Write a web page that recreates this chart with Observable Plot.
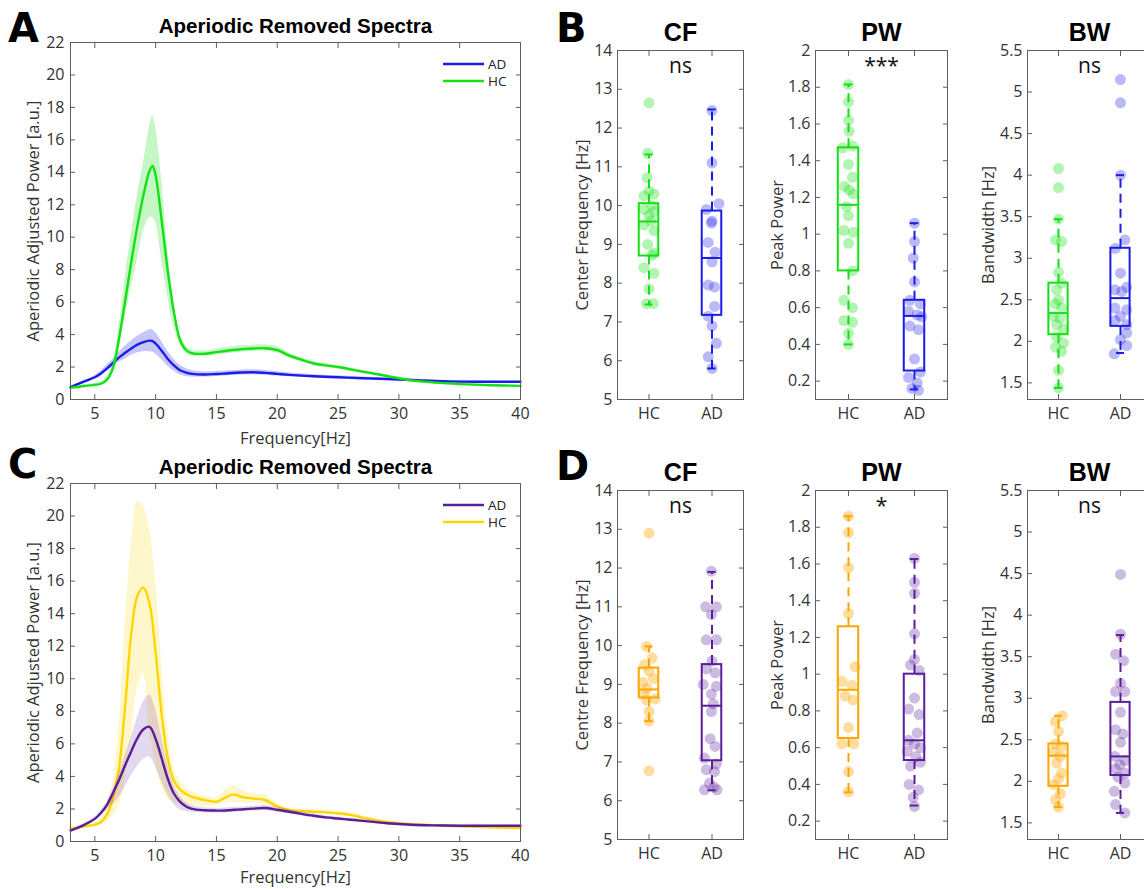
<!DOCTYPE html>
<html lang="en"><head><meta charset="utf-8">
<script src="https://cdn.jsdelivr.net/npm/d3@7"></script>
<script src="https://cdn.jsdelivr.net/npm/@observablehq/plot@0.6"></script>
<style>
html,body{margin:0;padding:0;background:#fff;overflow:hidden;}
#fig{position:relative;width:1144px;height:889px;overflow:hidden;background:#fff;}
</style></head><body><div id="fig"></div>
<script>
// ---------------- DATA ----------------
const groups = ["HC", "AD"];
const specXTicks = [5, 10, 15, 20, 25, 30, 35, 40];
const specYTicks = [0, 2, 4, 6, 8, 10, 12, 14, 16, 18, 20, 22];
const cfTicks = [5, 6, 7, 8, 9, 10, 11, 12, 13, 14];
const pwTicks = [0.2, 0.4, 0.6, 0.8, 1, 1.2, 1.4, 1.6, 1.8, 2];
const bwTicks = [1.5, 2, 2.5, 3, 3.5, 4, 4.5, 5, 5.5];

// Panel A spectra
const freqA = [3,4,5,5.5,6,6.5,7,7.5,8,8.5,9,9.5,9.75,10,10.5,11,11.5,12,12.5,13,14,15,16,17,18,19,20,21,22,23,25,27,29,31,33,35,37.5,40];
const hcMeanA = [0.72,0.82,0.90,0.97,1.22,1.95,3.80,6.10,8.50,10.70,12.60,14.10,14.40,13.80,11.00,7.90,5.40,3.70,3.05,2.85,2.82,2.92,3.02,3.10,3.14,3.16,3.05,2.70,2.45,2.22,2.00,1.72,1.45,1.18,1.04,0.95,0.88,0.84];
const hcHighA = [0.80,0.90,1.00,1.10,1.40,2.30,4.50,7.50,10.20,12.60,14.60,16.80,17.50,16.80,13.50,9.30,6.00,4.00,3.30,3.05,3.00,3.10,3.22,3.31,3.35,3.37,3.25,2.86,2.58,2.34,2.10,1.81,1.53,1.25,1.10,1.00,0.93,0.88];
const hcLowA = [0.65,0.75,0.82,0.86,1.05,1.65,3.20,5.10,7.00,8.60,10.40,11.20,11.20,10.90,8.60,6.30,4.50,3.40,2.85,2.68,2.65,2.75,2.84,2.91,2.95,2.97,2.87,2.55,2.32,2.10,1.90,1.63,1.37,1.11,0.98,0.90,0.83,0.80];
const adMeanA = [0.76,1.07,1.37,1.60,1.92,2.25,2.60,2.88,3.15,3.38,3.53,3.63,3.60,3.45,3.00,2.50,2.10,1.80,1.66,1.58,1.54,1.57,1.62,1.66,1.68,1.64,1.58,1.52,1.47,1.43,1.37,1.31,1.26,1.20,1.14,1.10,1.09,1.09];
const adHighA = [0.80,1.13,1.47,1.75,2.12,2.50,2.92,3.28,3.60,3.90,4.12,4.30,4.30,4.12,3.58,2.98,2.48,2.12,1.90,1.78,1.70,1.72,1.77,1.81,1.83,1.78,1.71,1.64,1.58,1.53,1.46,1.39,1.33,1.26,1.19,1.15,1.13,1.13];
const adLowA = [0.72,1.01,1.27,1.45,1.72,2.00,2.30,2.50,2.72,2.88,2.95,2.95,2.92,2.80,2.45,2.05,1.75,1.52,1.42,1.38,1.38,1.42,1.47,1.51,1.53,1.50,1.45,1.40,1.36,1.33,1.28,1.23,1.19,1.14,1.09,1.05,1.05,1.05];

// Panel C spectra
const freqC = [3,4,5,5.5,6,6.5,7,7.5,8,8.5,9,9.5,10,10.5,11,11.5,12,12.5,13,14,15,15.5,16,16.5,17,18,19,20,21,22,23,24,25,26,27,29,31,33,35,37.5,40];
const hcMeanC = [0.78,0.91,1.04,1.20,1.65,2.70,4.60,8.40,12.80,15.10,15.60,14.60,11.60,7.80,5.10,3.75,3.20,2.92,2.75,2.55,2.45,2.60,2.80,2.88,2.75,2.64,2.55,2.15,1.93,1.87,1.83,1.79,1.73,1.64,1.47,1.20,1.07,0.99,0.93,0.87,0.82];
const hcHighC = [0.85,0.98,1.15,1.40,2.30,3.80,7.20,13.50,18.30,20.90,20.60,19.20,16.00,11.00,6.80,4.50,3.70,3.30,3.05,2.80,2.70,3.00,3.30,3.45,3.20,2.95,2.85,2.35,2.08,2.00,1.96,1.92,1.86,1.77,1.60,1.30,1.15,1.05,0.98,0.92,0.87];
const hcLowC = [0.70,0.84,0.94,1.02,1.20,1.60,2.20,3.90,6.40,9.50,10.30,6.80,4.90,3.40,2.60,2.40,2.30,2.25,2.20,2.15,2.20,2.30,2.40,2.40,2.35,2.35,2.30,1.95,1.80,1.75,1.71,1.67,1.61,1.52,1.36,1.10,0.99,0.93,0.88,0.82,0.77];
const adMeanC = [0.67,0.98,1.39,1.75,2.25,3.00,3.80,4.70,5.55,6.35,6.90,7.05,6.30,5.10,3.85,2.95,2.45,2.15,2.00,1.92,1.90,1.90,1.92,1.95,1.97,2.02,2.06,1.95,1.83,1.70,1.58,1.48,1.41,1.34,1.27,1.12,1.03,0.99,0.97,0.97,0.97];
const adHighC = [0.72,1.05,1.50,1.90,2.45,3.25,4.20,5.30,6.40,7.60,8.60,9.00,8.10,6.40,4.70,3.45,2.80,2.40,2.20,2.08,2.05,2.05,2.07,2.10,2.12,2.17,2.21,2.10,1.97,1.83,1.70,1.59,1.51,1.43,1.35,1.19,1.09,1.04,1.02,1.02,1.02];
const adLowC = [0.62,0.90,1.28,1.60,1.95,2.30,2.70,3.35,4.05,4.60,5.05,5.20,4.55,3.65,2.85,2.30,1.95,1.85,1.80,1.76,1.75,1.75,1.77,1.80,1.82,1.87,1.91,1.80,1.69,1.57,1.46,1.37,1.31,1.25,1.19,1.05,0.97,0.94,0.92,0.92,0.92];

// Box plot stats: [lower whisker, q1, median, q3, upper whisker]
// Panel B (top row)
const cfB_HC = [12.65,11.35,10.72,10.38,10.30,10.25,10.00,9.90,9.85,9.75,9.60,9.50,9.35,9.00,8.78,8.72,8.40,8.25,7.85,7.47,7.47];
const cfB_HC_jit = [0,-0.02,-0.03,0,0.08,-0.08,0.05,-0.08,0.08,0,0.03,-0.08,0.08,-0.02,0.08,0.05,-0.08,0.08,0,-0.04,0.07];
const cfB_HC_box = [7.45, 8.70, 9.59, 10.05, 11.32];
const cfB_AD = [12.45,11.10,10.05,9.90,9.60,9.55,9.05,8.80,8.55,7.95,7.90,7.40,7.15,6.90,6.45,6.10,5.80];
const cfB_AD_jit = [0,0,0.11,-0.09,0,-0.01,-0.06,0.05,0,-0.06,0.04,0.04,-0.06,0,0.07,-0.06,0];
const cfB_AD_box = [5.80, 7.17, 8.65, 9.86, 12.48];

const pwB_HC = [1.815,1.72,1.62,1.56,1.48,1.47,1.38,1.31,1.26,1.24,1.22,1.15,1.10,1.02,1.01,0.95,0.80,0.64,0.60,0.53,0.52,0.46,0.40];
const pwB_HC_jit = [0,0,0,0.01,0.06,-0.09,0,0.06,-0.06,0.01,0.07,-0.03,0,-0.07,0.07,0,0.06,-0.07,0.06,-0.07,0.06,0,0];
const pwB_HC_box = [0.40, 0.80, 1.16, 1.47, 1.815];
const pwB_AD = [1.06,0.96,0.87,0.74,0.64,0.62,0.58,0.56,0.55,0.50,0.48,0.32,0.25,0.22,0.19,0.16,0.15];
const pwB_AD_jit = [0,0,-0.02,0,-0.07,0.09,-0.09,0.04,0.11,-0.07,0.06,0,0.09,-0.09,0.04,-0.04,0.06];
const pwB_AD_box = [0.155, 0.255, 0.555, 0.64, 1.06];

const bwB_HC = [4.08,3.85,3.47,3.22,3.20,2.83,2.70,2.62,2.50,2.45,2.40,2.30,2.28,2.20,2.15,2.05,1.98,1.93,1.88,1.65,1.44];
const bwB_HC_jit = [0,0,0,-0.05,0.05,0,0.05,-0.03,0,-0.05,0.05,-0.08,0.03,-0.03,0.08,-0.03,0.08,-0.05,0.05,0,0];
const bwB_HC_box = [1.44, 2.08, 2.34, 2.70, 3.47];
const bwB_AD = [5.15,4.87,4.00,3.22,3.12,2.82,2.65,2.62,2.60,2.40,2.38,2.30,2.25,2.20,2.10,2.02,1.95,1.85];
const bwB_AD_jit = [0,0,0,0.07,-0.08,0,0.1,-0.09,0.02,-0.09,0.1,0,-0.09,0.1,0.1,0,0.1,-0.1];
const bwB_AD_box = [1.86, 2.18, 2.52, 3.12, 4.00];

// Panel D (bottom row)
const cfD_HC = [12.90,9.98,9.68,9.50,9.35,9.15,9.05,8.90,8.75,8.62,8.60,8.30,8.05,6.77];
const cfD_HC_jit = [0,-0.04,0.05,-0.07,0,0.07,-0.1,-0.03,-0.08,0.1,-0.04,0,0,0];
const cfD_HC_box = [8.05, 8.65, 8.87, 9.42, 9.98];
const cfD_AD = [11.92,11.00,11.00,10.80,10.15,10.15,9.60,9.40,9.30,9.00,8.95,8.75,8.50,8.30,7.60,7.40,7.10,6.95,6.80,6.75,6.45,6.35,6.28,6.28];
const cfD_AD_jit = [-0.01,-0.1,0.07,-0.01,-0.09,0.07,0,-0.09,0.05,-0.14,0.07,-0.01,0.02,-0.01,-0.03,0.05,-0.12,0.07,-0.09,0.04,-0.04,0.03,-0.12,0.08];
const cfD_AD_box = [6.27, 7.03, 8.45, 9.51, 11.90];

const pwD_HC = [1.86,1.77,1.58,1.33,1.04,0.96,0.94,0.88,0.86,0.71,0.62,0.62,0.47,0.36];
const pwD_HC_jit = [0,0,0,0,0.1,-0.1,0.05,-0.05,0.07,0,-0.1,0.08,0,0];
const pwD_HC_box = [0.357, 0.65, 0.915, 1.258, 1.86];
const pwD_AD = [1.63,1.50,1.44,1.22,1.08,1.05,1.02,0.87,0.81,0.78,0.68,0.64,0.62,0.60,0.58,0.55,0.52,0.50,0.40,0.37,0.33,0.28];
const pwD_AD_jit = [0,0,0,0,0,-0.06,0.07,0,-0.09,0.07,0.04,-0.09,0,0.09,-0.11,0.02,0.09,-0.06,-0.08,0.06,-0.02,0];
const pwD_AD_box = [0.285, 0.53, 0.64, 1.00, 1.627];

const bwD_HC = [2.79,2.72,2.60,2.45,2.42,2.35,2.30,2.22,2.10,2.03,1.96,1.85,1.78,1.69];
const bwD_HC_jit = [0.06,-0.05,0,-0.05,0.05,-0.08,0.03,-0.03,0.05,0,-0.08,0.03,-0.05,0];
const bwD_HC_box = [1.69, 1.94, 2.31, 2.45, 2.79];
const bwD_AD = [4.49,3.77,3.53,3.45,3.18,3.08,3.08,2.83,2.62,2.57,2.47,2.30,2.25,2.20,2.15,2.10,2.05,1.98,1.88,1.72,1.62];
const bwD_AD_jit = [0,0,-0.08,0.05,0,-0.08,0.07,0,-0.08,0.04,0,-0.09,0.07,-0.01,-0.08,0.07,-0.04,0.07,-0.1,-0.08,0.07];
const bwD_AD_box = [1.62, 2.07, 2.30, 2.95, 3.76];

// ---------------- STYLE ----------------
const AXIS = "#5e5e5e", TXT = "#333";
const FONT = "'Open Sans', sans-serif";
const TITLE_FONT = "'Liberation Sans', Arial, sans-serif";
const GREEN = "#14e014", BLUE = "#1c1ce8", YELLOW = "#ffd500", ORANGE = "#ffa500", PURPLE = "#5a1e9c";
const BOX_HW = 0.155, CAP_HW = 0.065;
const TICK_FS = 16, LABEL_FS = 16.5;

const fig = document.getElementById("fig");
function place(node, left, top) {
  node.style.position = "absolute";
  node.style.left = left + "px";
  node.style.top = top + "px";
  fig.appendChild(node);
}
const baseStyle = {background: "transparent", overflow: "visible", maxWidth: "none", fontFamily: FONT, fontSize: "16px", color: TXT};

// ---------------- SPECTRA ----------------
function spectrumPlot({freq, series, top, H, mTop, mBottom, title, xLabelOffset}) {
  const W = 560, mL = 70, mR = 40;
  const marks = [];
  for (const s of series) {
    const rows = freq.map((f, i) => ({f, m: s.mean[i], lo: s.low[i], hi: s.high[i]}));
    marks.push(Plot.areaY(rows, {x: "f", y1: "lo", y2: "hi", fill: s.color, fillOpacity: s.bandOpacity, curve: "catmull-rom"}));
    marks.push(Plot.line(rows, {x: "f", y: "m", stroke: s.color, strokeWidth: 2.4, curve: "catmull-rom"}));
  }
  marks.push(Plot.frame({stroke: AXIS}));
  marks.push(Plot.axisX(specXTicks, {anchor: "bottom", tickSize: -5, tickPadding: 13, stroke: AXIS, fill: TXT,
    fontSize: TICK_FS, tickFormat: d => String(d), label: null}));
  marks.push(Plot.axisX({anchor: "bottom", ticks: [], tickSize: 0, fill: TXT, fontSize: LABEL_FS,
    label: "Frequency[Hz]", labelAnchor: "center", labelOffset: xLabelOffset, labelArrow: "none"}));
  marks.push(Plot.axisX(specXTicks, {anchor: "top", tickSize: -5, stroke: AXIS, tickFormat: () => "", label: null}));
  marks.push(Plot.axisY(specYTicks, {anchor: "left", tickSize: -5, tickPadding: 11, stroke: AXIS, fill: TXT,
    fontSize: TICK_FS, tickFormat: d => String(d), label: null}));
  marks.push(Plot.axisY({anchor: "left", ticks: [], tickSize: 0, fill: TXT, fontSize: LABEL_FS,
    label: "Aperiodic Adjusted Power [a.u.]", labelAnchor: "center", labelOffset: 43, labelArrow: "none"}));
  marks.push(Plot.axisY(specYTicks, {anchor: "right", tickSize: -5, stroke: AXIS, tickFormat: () => "", label: null}));
  marks.push(Plot.text([title], {text: d => d, frameAnchor: "top", lineAnchor: "middle", dy: -16, fontSize: 20.5, fontWeight: "bold", fontFamily: TITLE_FONT, fill: "#000"}));
  const p = Plot.plot({
    width: W, height: H, marginLeft: mL, marginRight: mR, marginTop: mTop, marginBottom: mBottom,
    x: {domain: [3, 40]}, y: {domain: [0, 22]},
    style: baseStyle, marks
  });
  place(p, 0, top);
}

spectrumPlot({
  freq: freqA, top: 0, H: 450, mTop: 42, mBottom: 51, title: "Aperiodic Removed Spectra", xLabelOffset: 44,
  series: [
    {mean: adMeanA, low: adLowA, high: adHighA, color: BLUE, bandOpacity: 0.25},
    {mean: hcMeanA, low: hcLowA, high: hcHighA, color: GREEN, bandOpacity: 0.25}
  ]
});
spectrumPlot({
  freq: freqC, top: 440, H: 449, mTop: 43, mBottom: 48, title: "Aperiodic Removed Spectra", xLabelOffset: 41,
  series: [
    {mean: hcMeanC, low: hcLowC, high: hcHighC, color: YELLOW, bandOpacity: 0.2},
    {mean: adMeanC, low: adLowC, high: adHighC, color: PURPLE, bandOpacity: 0.17}
  ]
});

// ---------------- BOX PLOTS ----------------
function boxPlot({title, sig, ylabel, domain, ticks, data, frameLeft, frameRight, top, labelOffset}) {
  const mL = 60, mR = 10, mT = 50, mB = 41, H = 440;
  const W = mL + (frameRight - frameLeft) + mR;
  const marks = [];
  data.forEach((g, gi) => {
    const cx = gi + 1;
    const pts = g.values.map((v, i) => ({x: cx + g.jitter[i], y: v}));
    marks.push(Plot.dot(pts, {x: "x", y: "y", r: 5.5, fill: g.color, fillOpacity: g.dotOpacity, stroke: "none"}));
  });
  data.forEach((g, gi) => {
    const cx = gi + 1;
    const [lo, q1, med, q3, hi] = g.box;
    const st = [{lo, q1, med, q3, hi}];
    const sc = {stroke: g.color, strokeWidth: 2};
    marks.push(Plot.ruleX(st, {x: () => cx, y1: "q3", y2: "hi", ...sc, strokeDasharray: "9,6"}));
    marks.push(Plot.ruleX(st, {x: () => cx, y1: "q1", y2: "lo", ...sc, strokeDasharray: "9,6"}));
    marks.push(Plot.rect(st, {x1: () => cx - BOX_HW, x2: () => cx + BOX_HW, y1: "q1", y2: "q3", fill: "none", ...sc}));
    marks.push(Plot.ruleY(st, {y: "med", x1: () => cx - BOX_HW, x2: () => cx + BOX_HW, ...sc}));
    marks.push(Plot.ruleY([lo, hi], {y: d => d, x1: () => cx - CAP_HW, x2: () => cx + CAP_HW, ...sc}));
  });
  marks.push(Plot.frame({stroke: AXIS}));
  marks.push(Plot.axisX([1, 2], {anchor: "bottom", tickSize: -5, tickPadding: 13, stroke: AXIS, fill: TXT,
    fontSize: TICK_FS, tickFormat: d => groups[d - 1], label: null}));
  marks.push(Plot.axisX([1, 2], {anchor: "top", tickSize: -5, stroke: AXIS, tickFormat: () => "", label: null}));
  marks.push(Plot.axisY(ticks, {anchor: "left", tickSize: -5, tickPadding: 10, stroke: AXIS, fill: TXT,
    fontSize: TICK_FS, tickFormat: d => String(d), label: null}));
  marks.push(Plot.axisY({anchor: "left", ticks: [], tickSize: 0, fill: TXT, fontSize: LABEL_FS,
    label: ylabel, labelAnchor: "center", labelOffset, labelArrow: "none"}));
  marks.push(Plot.axisY(ticks, {anchor: "right", tickSize: -5, stroke: AXIS, tickFormat: () => "", label: null}));
  marks.push(Plot.text([sig], {text: d => d, frameAnchor: "top", lineAnchor: "middle", dy: 16, fontSize: 21, fill: "#111"}));
  marks.push(Plot.text([title], {text: d => d, frameAnchor: "top", lineAnchor: "middle", dy: -18, fontSize: 25, fontWeight: "bold", fontFamily: TITLE_FONT, fill: "#000"}));
  const p = Plot.plot({
    width: W, height: H, marginLeft: mL, marginRight: mR, marginTop: mT, marginBottom: mB,
    x: {domain: [0.5, 2.5]}, y: {domain},
    style: baseStyle, marks
  });
  place(p, frameLeft - mL, top);
}

const topColors = [{color: GREEN, dotOpacity: 0.33}, {color: BLUE, dotOpacity: 0.3}];
const botColors = [{color: ORANGE, dotOpacity: 0.38}, {color: PURPLE, dotOpacity: 0.3}];
const mk = (cols, vals, jits, boxes) => cols.map((c, i) => ({...c, values: vals[i], jitter: jits[i], box: boxes[i]}));

const cfLabelTop = "Center Frequency [Hz]", cfLabelBot = "Centre Frequency [Hz]";
const rows = [
  {top: 0, colors: topColors, cfLabel: cfLabelTop,
   cf: [[cfB_HC, cfB_AD], [cfB_HC_jit, cfB_AD_jit], [cfB_HC_box, cfB_AD_box], "ns"],
   pw: [[pwB_HC, pwB_AD], [pwB_HC_jit, pwB_AD_jit], [pwB_HC_box, pwB_AD_box], "***"],
   bw: [[bwB_HC, bwB_AD], [bwB_HC_jit, bwB_AD_jit], [bwB_HC_box, bwB_AD_box], "ns"]},
  {top: 440, colors: botColors, cfLabel: cfLabelBot,
   cf: [[cfD_HC, cfD_AD], [cfD_HC_jit, cfD_AD_jit], [cfD_HC_box, cfD_AD_box], "ns"],
   pw: [[pwD_HC, pwD_AD], [pwD_HC_jit, pwD_AD_jit], [pwD_HC_box, pwD_AD_box], "*"],
   bw: [[bwD_HC, bwD_AD], [bwD_HC_jit, bwD_AD_jit], [bwD_HC_box, bwD_AD_box], "ns"]}
];
for (const r of rows) {
  boxPlot({title: "CF", sig: r.cf[3], ylabel: r.cfLabel, domain: [5, 14], ticks: cfTicks,
    data: mk(r.colors, r.cf[0], r.cf[1], r.cf[2]), frameLeft: 617, frameRight: 743, top: r.top, labelOffset: 41});
  boxPlot({title: "PW", sig: r.pw[3], ylabel: "Peak Power", domain: [0.1, 2], ticks: pwTicks,
    data: mk(r.colors, r.pw[0], r.pw[1], r.pw[2]), frameLeft: 815, frameRight: 947, top: r.top, labelOffset: 44});
  boxPlot({title: "BW", sig: r.bw[3], ylabel: "Bandwidth [Hz]", domain: [1.3, 5.5], ticks: bwTicks,
    data: mk(r.colors, r.bw[0], r.bw[1], r.bw[2]), frameLeft: 1027, frameRight: 1151, top: r.top, labelOffset: 45});
}

// ---------------- OVERLAY: panel letters & legends ----------------
const svg = d3.create("svg").attr("width", 1144).attr("height", 889)
  .style("position", "absolute").style("left", 0).style("top", 0).style("pointer-events", "none");
const letters = [["A", 8, 42], ["B", 556, 42], ["C", 8, 478], ["D", 556, 480]];
svg.selectAll("text.letter").data(letters).join("text").attr("class", "letter")
  .attr("x", d => d[1]).attr("y", d => d[2]).text(d => d[0])
  .attr("font-family", "'DejaVu Sans', sans-serif").attr("font-weight", "bold").attr("font-size", 40).attr("fill", "#000");
const legends = [
  {y0: 64, items: [["AD", BLUE], ["HC", GREEN]]},
  {y0: 505, items: [["AD", PURPLE], ["HC", YELLOW]]}
];
for (const lg of legends) {
  lg.items.forEach(([name, col], i) => {
    const y = lg.y0 + i * 17;
    svg.append("line").attr("x1", 443).attr("x2", 484).attr("y1", y).attr("y2", y)
      .attr("stroke", col).attr("stroke-width", 2.5);
    svg.append("text").attr("x", 488).attr("y", y).attr("dy", "0.35em").text(name)
      .attr("font-family", "'Open Sans', sans-serif").attr("font-size", 13.5).attr("fill", "#222");
  });
}
fig.appendChild(svg.node());
</script></body></html>
